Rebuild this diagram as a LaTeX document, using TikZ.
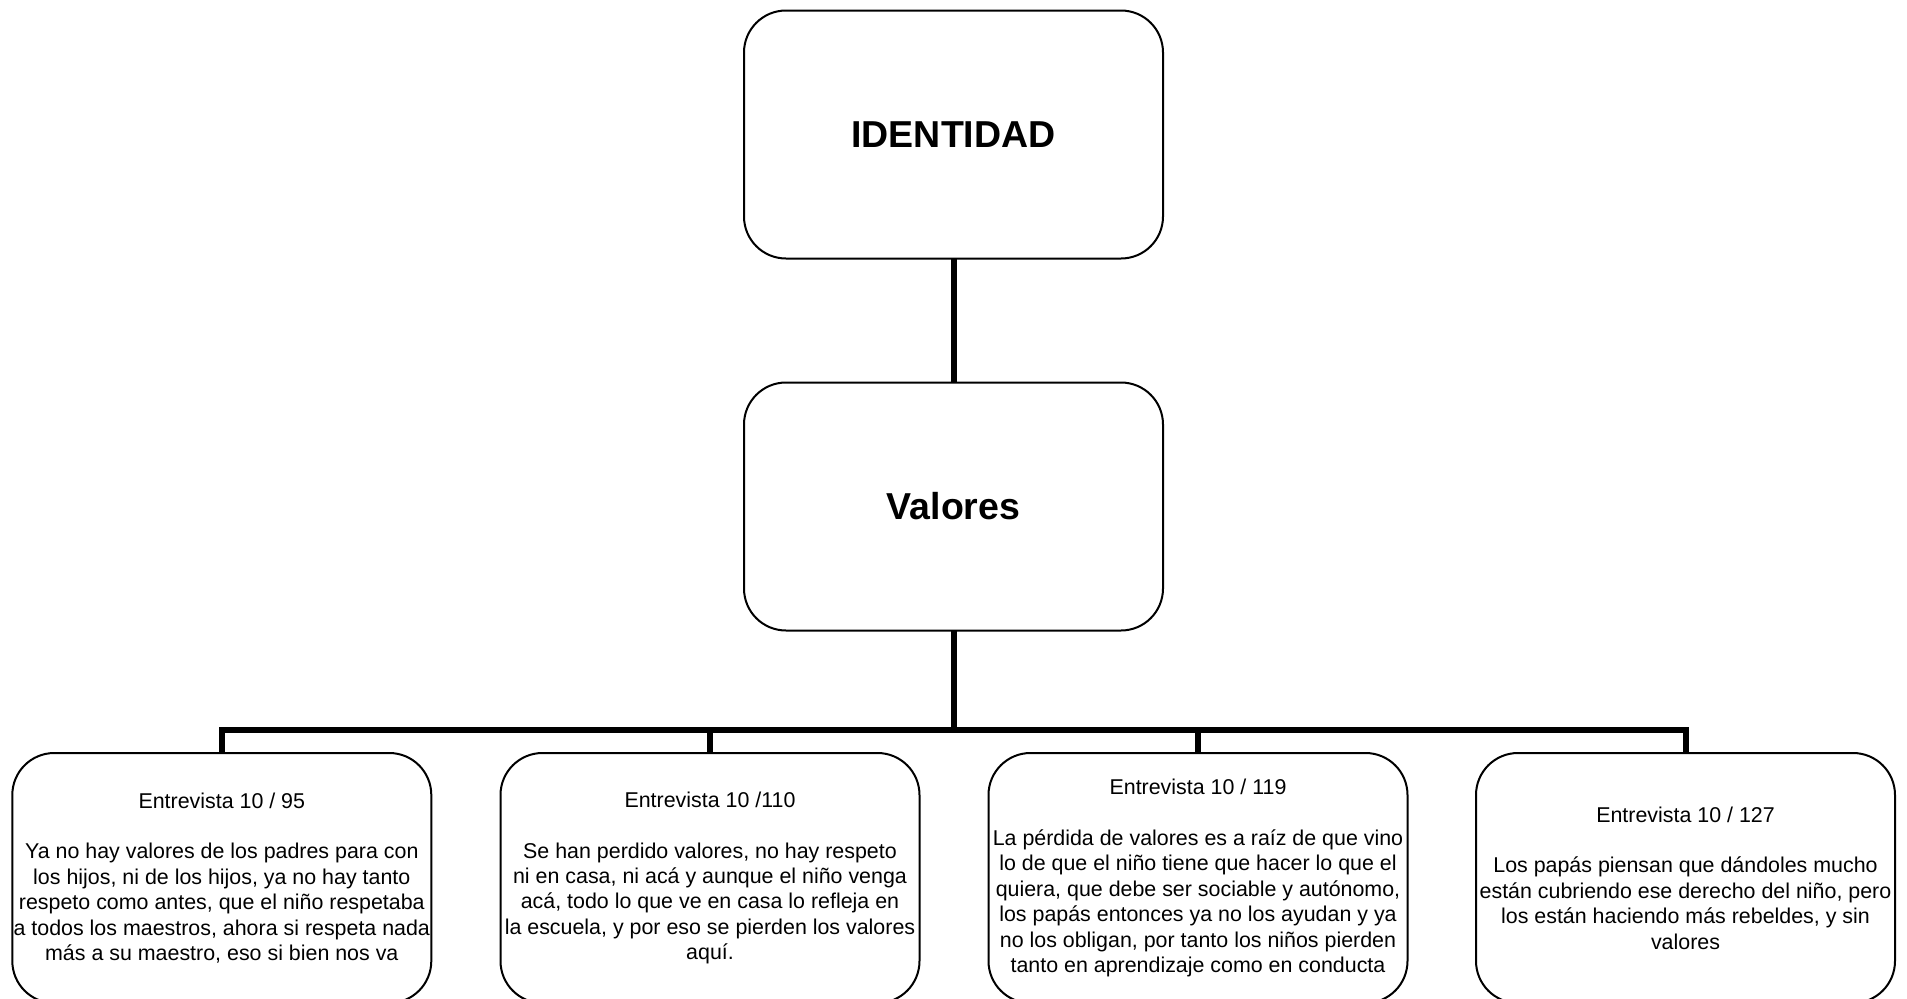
\documentclass[tikz,border=0pt]{standalone}
\usepackage{fontspec}
\setmainfont{Liberation Sans}
\begin{document}
\begin{tikzpicture}[x=1pt,y=-1pt,
  bigbox/.style={draw=black,line width=2pt,rounded corners=42pt,minimum width=419pt,minimum height=248pt,inner sep=0pt,outer sep=0pt,font=\fontsize{37.5}{41}\selectfont\bfseries,fill=white},
  smallbox/.style={draw=black,line width=2pt,rounded corners=42pt,minimum width=419pt,minimum height=250pt,inner sep=0pt,outer sep=0pt,align=center,font=\fontsize{21.4}{25.4}\selectfont,fill=white},
  conn/.style={line width=6pt,line join=miter,draw=black}]
\useasboundingbox (0,0) rectangle (1907,999);
\fill[white] (0,0) rectangle (1907,999);
\coordinate (bar) at (953.5,730);
\node[bigbox] (top) at (953.5,134.5) {IDENTIDAD};
\node[bigbox] (val) at (953.5,506.5) {Valores};
\node[smallbox] (b1) at (221.8,878) {Entrevista 10 / 95\\[25.4pt]Ya no hay valores de los padres para con\\los hijos, ni de los hijos, ya no hay tanto\\respeto como antes, que el niño respetaba\\a todos los maestros, ahora si respeta nada\\más a su maestro, eso si bien nos va};
\node[smallbox] (b2) at (710,878) {Entrevista 10 /110\\[25.4pt]Se han perdido valores, no hay respeto\\ni en casa, ni acá y aunque el niño venga\\acá, todo lo que ve en casa lo refleja en\\la escuela, y por eso se pierden los valores\\aquí.};
\node[smallbox] (b3) at (1198,878) {Entrevista 10 / 119\\[25.4pt]La pérdida de valores es a raíz de que vino\\lo de que el niño tiene que hacer lo que el\\quiera, que debe ser sociable y autónomo,\\los papás entonces ya no los ayudan y ya\\no los obligan, por tanto los niños pierden\\tanto en aprendizaje como en conducta};
\node[smallbox] (b4) at (1685.5,878) {Entrevista 10 / 127\\[25.4pt]Los papás piensan que dándoles mucho\\están cubriendo ese derecho del niño, pero\\los están haciendo más rebeldes, y sin\\valores};
\draw[conn] (top.south) -- (val.north);
\draw[conn] (val.south) -- (bar);
\draw[conn] (b1.north) |- (bar) -| (b4.north);
\draw[conn] (b2.north) -- (b2.north |- bar);
\draw[conn] (b3.north) -- (b3.north |- bar);
\end{tikzpicture}
\end{document}
